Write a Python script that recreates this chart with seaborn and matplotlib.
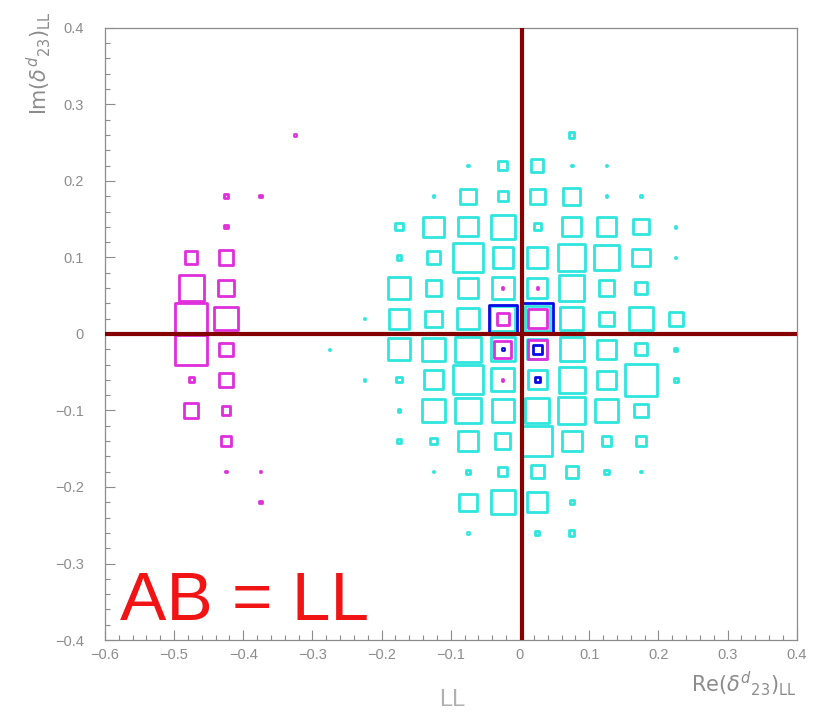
import matplotlib

matplotlib.use("Agg")

import matplotlib.pyplot as plt
import numpy as np
import pandas as pd
import seaborn as sns
from matplotlib.ticker import MultipleLocator, FuncFormatter

# box contents (outer box size, roughly in pixels of an 813x714 frame)
cyan_x = [0.075,
          -0.075, -0.025, 0.025, 0.075, 0.125,
          -0.125, -0.075, -0.025, 0.025, 0.075, 0.125, 0.175,
          -0.175, -0.125, -0.075, -0.025, 0.025, 0.075, 0.125, 0.175, 0.225,
          -0.175, -0.125, -0.075, -0.025, 0.025, 0.075, 0.125, 0.175, 0.225,
          -0.175, -0.125, -0.075, -0.025, 0.025, 0.075, 0.125, 0.175,
          -0.225, -0.175, -0.125, -0.075, -0.025, 0.025, 0.075, 0.125, 0.175, 0.225,
          -0.275, -0.175, -0.125, -0.075, -0.025, 0.025, 0.075, 0.125, 0.175, 0.225,
          -0.225, -0.175, -0.125, -0.075, -0.025, 0.025, 0.075, 0.125, 0.175, 0.225,
          -0.175, -0.125, -0.075, -0.025, 0.025, 0.075, 0.125, 0.175,
          -0.175, -0.125, -0.075, -0.025, 0.025, 0.075, 0.125, 0.175,
          -0.125, -0.075, -0.025, 0.025, 0.075, 0.125, 0.175,
          -0.075, -0.025, 0.025, 0.075,
          -0.075, 0.025, 0.075]
cyan_y = [0.26] * 1 + [0.22] * 5 + [0.18] * 7 + [0.14] * 9 + [0.10] * 9 + [0.06] * 8 \
    + [0.02] * 10 + [-0.02] * 10 + [-0.06] * 10 + [-0.10] * 8 + [-0.14] * 8 \
    + [-0.18] * 7 + [-0.22] * 4 + [-0.26] * 3
cyan_val = [8,
            3, 12, 15, 3, 3,
            3, 18, 13, 18, 20, 3, 3,
            10, 23, 22, 27, 10, 22, 22, 18, 3,
            7, 15, 32, 23, 23, 30, 27, 20, 3,
            25, 18, 22, 25, 23, 28, 18, 15,
            3, 23, 19, 24, 28, 28, 26, 17, 26, 17,
            3, 25, 26, 28, 27, 23, 27, 22, 15, 6,
            3, 8, 22, 32, 26, 22, 29, 21, 35, 7,
            5, 25, 28, 25, 27, 30, 26, 16,
            7, 9, 22, 18, 33, 23, 12, 12,
            4, 7, 12, 16, 15, 7, 4,
            20, 27, 23, 7,
            4, 7, 8]

magenta_x = [-0.325, -0.425, -0.375, -0.425, -0.475, -0.425, -0.475, -0.425,
             -0.475, -0.425, -0.475, -0.425, -0.475, -0.425, -0.475, -0.425,
             -0.425, -0.425, -0.375, -0.375,
             -0.025, 0.025, -0.025, 0.025, -0.025, 0.025, -0.025]
magenta_y = [0.26, 0.18, 0.18, 0.14, 0.10, 0.10, 0.06, 0.06,
             0.02, 0.02, -0.02, -0.02, -0.06, -0.06, -0.10, -0.10,
             -0.14, -0.18, -0.18, -0.22,
             0.06, 0.06, 0.02, 0.02, -0.02, -0.02, -0.06]
magenta_val = [4, 7, 5, 6, 15, 17, 28, 19,
               35, 26, 35, 16, 8, 17, 17, 11,
               12, 4, 4, 5,
               4, 4, 15, 22, 20, 22, 4]

blue_x = [-0.025, 0.025, -0.025, 0.025, 0.025]
blue_y = [0.02, 0.02, -0.02, -0.02, -0.06]
blue_val = [31, 34, 5, 12, 8]

x_ticks = [-0.6, -0.5, -0.4, -0.3, -0.2, -0.1, 0, 0.1, 0.2, 0.3, 0.4]
y_ticks = [-0.4, -0.3, -0.2, -0.1, 0, 0.1, 0.2, 0.3, 0.4]

CYAN = "#2fe6de"
MAGENTA = "#df2edc"
BLUE = "#0a0ae6"
DARKRED = "#850000"
GRAY = "#8c8c8c"
DPI = 100
LW_PT = 2.0


def box_frame(xs, ys, vals):
    df = pd.DataFrame({"x": xs, "y": ys, "val": vals})
    lw_px = LW_PT * DPI / 72
    side_pt = np.clip(df["val"] - lw_px, 1.4, None) * 72 / DPI
    df["area"] = side_pt ** 2
    return df


def draw_boxes(ax, df, color, amax):
    sns.scatterplot(data=df, x="x", y="y", size="area", sizes=(0, amax),
                    size_norm=(0, amax), marker="s", color=color,
                    facecolor="none", edgecolor=color, linewidth=LW_PT,
                    legend=False, ax=ax, zorder=3)


def main():
    sns.set_theme(style="white")
    plt.rcParams["font.family"] = ["Liberation Sans", "DejaVu Sans"]
    plt.rcParams["mathtext.fontset"] = "dejavusans"

    fig = plt.figure(figsize=(8.13, 7.14), dpi=DPI)
    ax = fig.add_axes([0.129, 0.1036, 0.851, 0.8574])

    cyan = box_frame(cyan_x, cyan_y, cyan_val)
    magenta = box_frame(magenta_x, magenta_y, magenta_val)
    blue = box_frame(blue_x, blue_y, blue_val)
    amax = max(cyan["area"].max(), magenta["area"].max(), blue["area"].max())
    draw_boxes(ax, cyan, CYAN, amax)
    draw_boxes(ax, magenta, MAGENTA, amax)
    draw_boxes(ax, blue, BLUE, amax)

    ax.axhline(0, color=DARKRED, lw=3.0, zorder=5)
    ax.axvline(0.003, color=DARKRED, lw=3.0, zorder=5)

    ax.set_xlim(-0.6, 0.4)
    ax.set_ylim(-0.4, 0.4)
    ax.set_xticks(x_ticks)
    ax.set_yticks(y_ticks)
    fmt = FuncFormatter(lambda v, _: "0" if abs(v) < 1e-9 else f"{v:.1f}".replace("-", "\u2212"))
    ax.xaxis.set_major_formatter(fmt)
    ax.yaxis.set_major_formatter(fmt)
    ax.xaxis.set_minor_locator(MultipleLocator(0.02))
    ax.yaxis.set_minor_locator(MultipleLocator(0.02))
    ax.tick_params(which="both", direction="in", colors=GRAY, labelcolor=GRAY,
                   top=False, right=False, left=True, bottom=True, width=0.8)
    ax.tick_params(which="major", length=7)
    ax.tick_params(which="minor", length=3.5)
    ax.tick_params(axis="x", labelsize=10.5, pad=6)
    ax.tick_params(axis="y", labelsize=10.5, pad=15)
    for sp in ax.spines.values():
        sp.set_color(GRAY)
        sp.set_linewidth(0.9)
    ax.set_xlabel("")
    ax.set_ylabel("")

    fig.text(0.98, 0.043, r"$\mathrm{Re}(\delta^{d}{}_{23})_{\mathrm{LL}}$",
             ha="right", va="center", color=GRAY, fontsize=15)
    fig.text(0.048, 0.985, r"$\mathrm{Im}(\delta^{d}{}_{23})_{\mathrm{LL}}$",
             ha="center", va="top", rotation=90, color=GRAY, fontsize=15)
    fig.text(0.556, 0.02, "LL", ha="center", va="center", color="#b0b0b0", fontsize=17)
    ax.text(-0.578, -0.35, "AB = LL", color="#f01414", fontsize=50,
            ha="left", va="center", zorder=6)

    fig.savefig("out.png", dpi=DPI, facecolor="white")
    plt.close(fig)


if __name__ == "__main__":
    main()
